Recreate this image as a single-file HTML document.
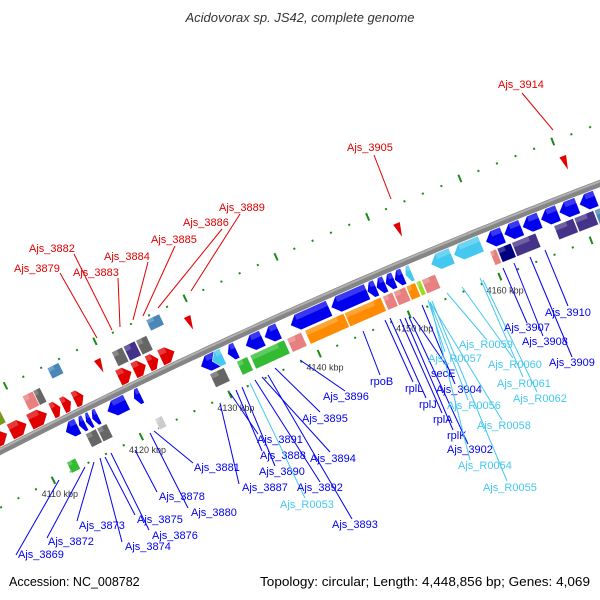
<!DOCTYPE html>
<html><head><meta charset="utf-8"><style>
html,body{margin:0;padding:0;background:#fff}
svg{display:block;font-family:"Liberation Sans",sans-serif}
</style></head><body>
<svg id="map" width="600" height="600" viewBox="0 0 600 600" xmlns="http://www.w3.org/2000/svg">
<rect width="600" height="600" fill="#fff"/>
<text x="300" y="22" text-anchor="middle" font-size="13" font-style="italic" fill="#333">Acidovorax sp. JS42, complete genome</text>
<g id="dots"></g>
<g id="backbone"></g>
<g id="genes"></g>
<g id="ticks"></g>
<g id="labels" font-size="11"></g>
<text x="9" y="586" font-size="12.5" fill="#000">Accession: NC_008782</text>
<text x="590" y="586" text-anchor="end" font-size="12.5" fill="#000" textLength="330" lengthAdjust="spacingAndGlyphs">Topology: circular; Length: 4,448,856 bp; Genes: 4,069</text>
</svg>
<script>
// gene data: start kb, end kb, row, direction, color
const geneStart=[4106,4108.3,4110.5,4113,4114.2,4115.5,4120.5,4122.2,4123.8,4125.2,4107,4111,4112.2,4114.5,4121,4122.3,4123.7,4125.5,4119,4129,4152,4170,
 4113.3,4114.8,4115.6,4116.3,4118,4121,4128.5,4129.8,4131.5,4133.5,4135.6,4138.5,4143,4147,4148,4149,4150,4151.2,4154,4156.5,4160,4162,4164,4166,4168,4170.2,
 4115,4116.3,4122,4129,4132,4133.5,4137.6,4139.6,4144,4148.2,4149.4,4150.8,4151.9,4152.5,4160,4160.8,4162.4,4167,4169.2,4171.4,4172.8,4112];
const geneEnd  =[4108,4110.2,4112.5,4114,4115.2,4116.6,4122,4123.6,4125,4126.8,4108.4,4112.2,4113,4115.8,4122.2,4123.6,4124.9,4127,4119.8,4129.8,4152.8,4170.8,
 4114.7,4115.5,4116.2,4117,4120.2,4121.8,4130.4,4131,4132.5,4135.4,4137.2,4142.8,4147,4148,4149,4150,4151,4151.9,4156.3,4159.5,4161.9,4163.9,4165.9,4167.9,4170,4172,
 4116.2,4117.4,4122.8,4130.6,4133.2,4137.3,4139.2,4143.9,4148,4149.3,4150.7,4151.8,4152.4,4154,4160.7,4162.3,4165,4169.1,4171.3,4172.7,4174,4113];
const geneRow  =[1,1,1,1,1,1,1,1,1,1,2,2,2,3,2,2,2,3,2,2,2,2,
 -1,-1,-1,-1,-1,-1,-1,-1,-1,-1,-1,-1,-1,-1,-1,-1,-1,-1,-1,-1,-1,-1,-1,-1,-1,-1,
 -2,-2,-3,-2,-2,-2,-2,-2,-2,-2,-2,-2,-2,-2,-2,-2,-2,-2,-2,-2,-2,-3];
const geneDir  =["r","r","r","r","r","r","r","r","r","r","n","n","n","n","n","n","n","n","t","t","t","t",
 "l","l","l","l","l","l","l","l","l","l","l","l","l","l","l","l","l","l","l","l","l","l","l","l","l","l",
 "n","n","n","n","n","n","n","n","n","n","n","n","n","n","n","n","n","n","n","n","n","n"];
const geneColor=["#e00000","#e00000","#e00000","#e00000","#e00000","#e00000","#e00000","#e00000","#e00000","#e00000","#779922","#e88080","#666666","#4a86b8","#666666","#443388","#666666","#4a86b8","#e00000","#e00000","#e00000","#e00000",
 "#0000ee","#0000ee","#0000ee","#0000ee","#0000ee","#0000ee","#0000ee","#44c8f0","#0000ee","#0000ee","#0000ee","#0000ee","#0000ee","#0000ee","#0000ee","#0000ee","#0000ee","#44c8f0","#44c8f0","#44c8f0","#0000ee","#0000ee","#0000ee","#0000ee","#0000ee","#0000ee",
 "#666666","#666666","#cccccc","#666666","#33bb33","#33bb33","#e88080","#ff8c00","#ff8c00","#e88080","#e88080","#ff8c00","#99dd22","#e88080","#e88080","#000080","#443388","#443388","#443388","#4a86b8","#e8208a","#33bb33"];
const tickKb=[4110,4120,4130,4140,4150,4160];
const tickLabels=["4110 kbp","4120 kbp","4130 kbp","4140 kbp","4150 kbp","4160 kbp"];

const NS="http://www.w3.org/2000/svg";
const CX=2735,CY=5766,R=5977,A0=-26.9,DEG=0.0949;
const PX=R*DEG*Math.PI/180;
function ang(kb){return A0+(kb-4110)*DEG;}
function pos(kb,v){const t=ang(kb)*Math.PI/180,r=R+v;return [CX+r*Math.sin(t),CY-r*Math.cos(t)];}
function mk(tag,at,parent){const e=document.createElementNS(NS,tag);for(const k in at)e.setAttribute(k,at[k]);parent.appendChild(e);return e;}
const rowV={1:[4,21],2:[23,39],3:[41,53],"-1":[-21,-4],"-2":[-38,-23],"-3":[-52,-40]};

// backbone
const bb=document.getElementById('backbone');
let d="";for(let k=4100;k<=4180;k+=1){const p=pos(k,0);d+=(k==4100?"M":"L")+p[0].toFixed(1)+","+p[1].toFixed(1);}
const band=mk('path',{d:d,stroke:"#858585","stroke-width":7,fill:"none"},bb);


let d2="";for(let k=4100;k<=4180;k+=1){const p=pos(k,1.8);d2+=(k==4100?"M":"L")+p[0].toFixed(1)+","+p[1].toFixed(1);}
const hl=mk('path',{d:d2,stroke:"#b0b0b0","stroke-width":2,fill:"none"},bb);



// genes
const gg=document.getElementById('genes');
for(let i=0;i<geneStart.length;i++){
  const a=geneStart[i],b=geneEnd[i],mid=(a+b)/2,L=(b-a)*PX;
  const v=rowV[geneRow[i]];
  const g=mk('g',{transform:`rotate(${ang(mid).toFixed(4)},${CX},${CY})`},gg);
  
  
  const x1=CX-L/2,x2=CX+L/2,yt=CY-R-v[1],yb=CY-R-v[0],ym=(yt+yb)/2;
  const h=Math.min(8,L*0.5);let pts;
  const dir=geneDir[i];
  if(dir=="r")pts=[[x1,yt],[x2-h,yt],[x2,ym],[x2-h,yb],[x1,yb]];
  else if(dir=="l")pts=[[x2,yt],[x1+h,yt],[x1,ym],[x1+h,yb],[x2,yb]];
  else if(dir=="t")pts=[[x1,yt],[x2,yt],[CX,yb]];
  else pts=[[x1,yt],[x2,yt],[x2,yb],[x1,yb]];
  mk('polygon',{points:pts.map(p=>p.map(n=>n.toFixed(2)).join(",")).join(" "),fill:geneColor[i],stroke:"#fff","stroke-width":0.6},g);
  if(dir!="t")mk('rect',{x:x1+(dir=="l"?h:0),y:yt,width:Math.max(0,L-h),height:(yb-yt)*0.35,fill:"#fff",opacity:0.22},g);
}

// dot rows & tick dashes
const dg=document.getElementById('dots');
for(let k=4104;k<=4176;k+=2){
  for(const v of [56,-50]){
    const g=mk('g',{transform:`rotate(${ang(k).toFixed(4)},${CX},${CY})`},dg);
    
    
    const major=(k%10==0);
    mk('rect',{x:CX-1,y:CY-R-v-(major?4:1),width:2,height:major?8:2,fill:"#1a8a1a"},g);
  }
}
const tg=document.getElementById('ticks');
tickKb.forEach((k,i)=>{
  const p=pos(k,-64);
  const t=mk('text',{x:p[0].toFixed(1),y:(p[1]+4).toFixed(1),"font-size":9,fill:"#333","text-anchor":"middle"},tg);
  t.textContent=tickLabels[i];
  
  
});

// labels: text, x, baseline, color, line x1,y1 (gene end), x2,y2 (label end)
const labels=[
["Ajs_3914",498,88,"#e00000",553,130,522,93],
["Ajs_3905",347,151,"#e00000",391,199,374,155],
["Ajs_3889",219,211,"#e00000",191,291,240,214],
["Ajs_3886",183,226,"#e00000",158,308,222,229],
["Ajs_3885",151,243,"#e00000",143,316,175,246],
["Ajs_3884",104,260,"#e00000",133,320,148,262],
["Ajs_3883",73,276,"#e00000",120,327,118,278],
["Ajs_3882",29,252,"#e00000",112,330,74,254],
["Ajs_3879",14,272,"#e00000",97,338,60,273],
["Ajs_3869",18,558,"#0000ee",59,480,16,555],
["Ajs_3872",48,545,"#0000ee",85,467,47,538],
["Ajs_3873",79,529,"#0000ee",94,462,77,521],
["Ajs_3874",125,550,"#0000ee",100,458,122,542],
["Ajs_3875",137,523,"#0000ee",105,457,135,515],
["Ajs_3876",152,539,"#0000ee",111,453,149,530],
["Ajs_3878",159,500,"#0000ee",135,450,157,492],
["Ajs_3880",191,516,"#0000ee",150,433,188,508],
["Ajs_3881",194,471,"#0000ee",154,431,193,463],
["Ajs_3887",242,491,"#0000ee",220,403,239,484],
["Ajs_3891",257,443,"#0000ee",230,393,258,434],
["Ajs_3888",260,459,"#0000ee",236,390,262,451],
["Ajs_3890",259,475,"#0000ee",242,387,275,466],
["Ajs_R0053",280,508,"#44c8f0",250,383,305,498],
["Ajs_3892",297,491,"#0000ee",255,380,320,482],
["Ajs_3894",310,462,"#0000ee",262,377,330,452],
["Ajs_3895",302,422,"#0000ee",275,368,320,412],
["Ajs_3896",323,400,"#0000ee",300,360,345,391],
["Ajs_3893",332,528,"#0000ee",268,375,352,519],
["rpoB",370,385,"#0000ee",363,331,380,375],
["rplL",405,392,"#0000ee",385,320,413,382],
["rplJ",419,408,"#0000ee",390,318,426,398],
["rplA",433,423,"#0000ee",400,319,442,413],
["rplK",447,439,"#0000ee",405,318,453,430],
["Ajs_3902",447,453,"#0000ee",409,317,468,444],
["secE",431,377,"#0000ee",413,317,448,368],
["Ajs_3904",436,393,"#0000ee",422,305,455,384],
["Ajs_R0057",428,362,"#44c8f0",428,300,445,352],
["Ajs_R0056",447,409,"#44c8f0",430,302,468,400],
["Ajs_R0058",477,429,"#44c8f0",430,302,502,420],
["Ajs_R0054",458,469,"#44c8f0",430,302,470,460],
["Ajs_R0055",483,491,"#44c8f0",432,301,507,481],
["Ajs_R0059",459,348,"#44c8f0",447,293,487,340],
["Ajs_R0060",488,368,"#44c8f0",462,287,513,358],
["Ajs_R0061",497,387,"#44c8f0",480,278,523,377],
["Ajs_R0062",513,402,"#44c8f0",483,280,537,392],
["Ajs_3907",504,331,"#0000ee",503,268,527,323],
["Ajs_3908",522,345,"#0000ee",514,263,543,336],
["Ajs_3909",549,366,"#0000ee",530,257,572,357],
["Ajs_3910",545,316,"#0000ee",545,250,568,306]
];
const lg=document.getElementById('labels');
labels.forEach(l=>{
  const ln=mk('line',{x1:l[4],y1:l[5],x2:l[6],y2:l[7],stroke:l[3],"stroke-width":1},lg);
  
  
  const t=mk('text',{x:l[1],y:l[2],fill:l[3]},lg);
  t.textContent=l[0];
  
  
});
</script>
</body></html>
